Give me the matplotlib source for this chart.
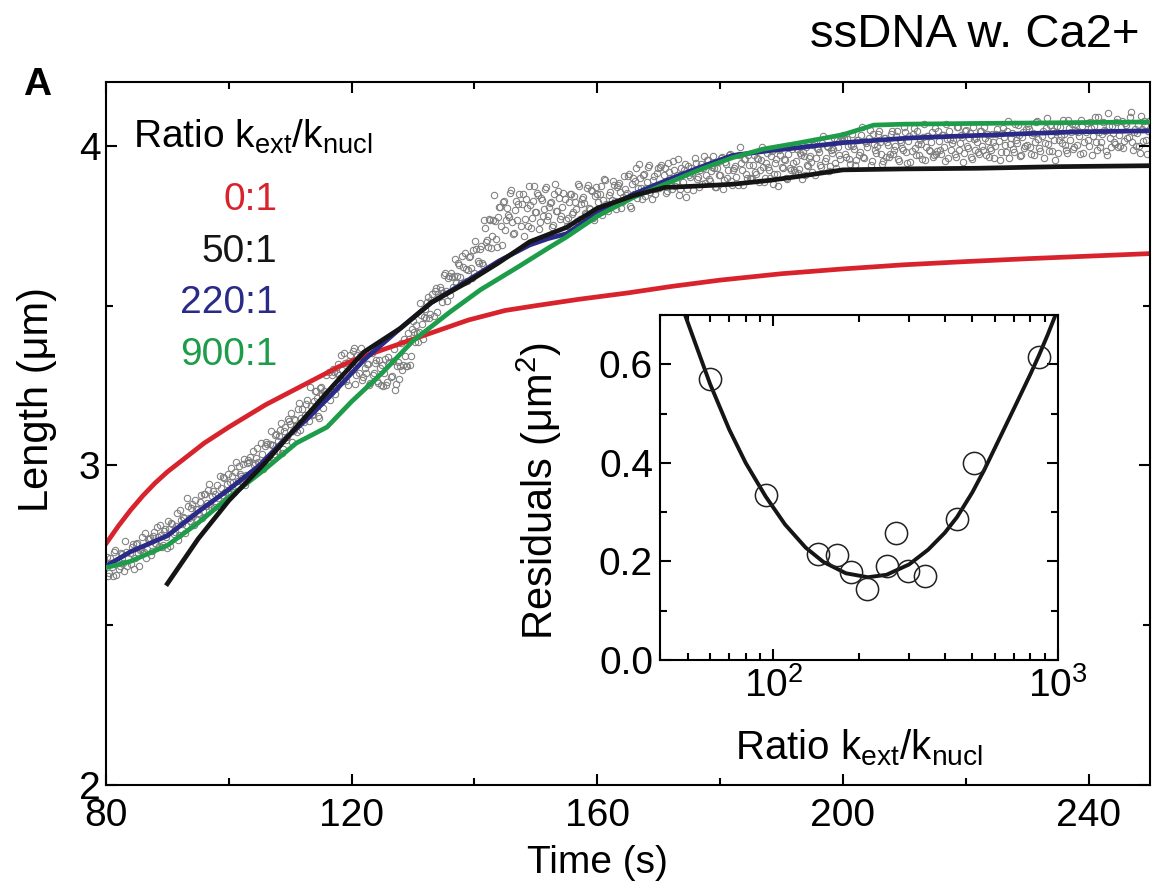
import numpy as np
import matplotlib
matplotlib.use("Agg")
import matplotlib.pyplot as plt
from matplotlib.ticker import MultipleLocator, LogLocator, NullFormatter

plt.rcParams['font.family'] = ['Liberation Sans', 'DejaVu Sans']
plt.rcParams['mathtext.fontset'] = 'custom'
plt.rcParams['mathtext.rm'] = 'Liberation Sans'
plt.rcParams['mathtext.it'] = 'Liberation Sans:italic'

# measured length, 3 samples per second from 80 s on (one row = 5 s)
length_rows = [
    [2.692, 2.655, 2.711, 2.682, 2.730, 2.657, 2.705, 2.685, 2.722, 2.670, 2.728, 2.710, 2.692, 2.755, 2.710],
    [2.757, 2.685, 2.738, 2.725, 2.789, 2.740, 2.770, 2.720, 2.780, 2.758, 2.808, 2.748, 2.783, 2.750, 2.800],
    [2.742, 2.800, 2.820, 2.787, 2.811, 2.767, 2.862, 2.818, 2.836, 2.814, 2.873, 2.826, 2.879, 2.813, 2.864],
    [2.865, 2.885, 2.835, 2.910, 2.873, 2.923, 2.878, 2.903, 2.870, 2.940, 2.872, 2.930, 2.965, 2.917, 2.941],
    [2.912, 2.992, 2.948, 2.981, 2.939, 2.998, 2.966, 3.004, 2.938, 3.009, 3.012, 2.975, 3.046, 3.007, 3.055],
    [2.997, 3.035, 3.015, 3.072, 3.010, 3.068, 3.065, 3.037, 3.100, 3.075, 3.112, 3.040, 3.108, 3.080, 3.144],
    [3.130, 3.074, 3.146, 3.125, 3.176, 3.111, 3.178, 3.158, 3.206, 3.138, 3.187, 3.160, 3.233, 3.211, 3.147],
    [3.246, 3.181, 3.224, 3.216, 3.294, 3.229, 3.303, 3.224, 3.290, 3.283, 3.347, 3.264, 3.320, 3.251, 3.345],
    [3.307, 3.366, 3.284, 3.320, 3.343, 3.268, 3.339, 3.290, 3.317, 3.257, 3.352, 3.290, 3.330, 3.257, 3.306],
    [3.315, 3.290, 3.251, 3.339, 3.276, 3.328, 3.237, 3.311, 3.272, 3.382, 3.313, 3.341, 3.311, 3.395, 3.343],
    [3.452, 3.386, 3.413, 3.417, 3.472, 3.397, 3.491, 3.513, 3.460, 3.517, 3.468, 3.556, 3.538, 3.558, 3.511],
    [3.596, 3.545, 3.586, 3.534, 3.590, 3.593, 3.572, 3.634, 3.591, 3.654, 3.574, 3.616, 3.613, 3.654, 3.586],
    [3.602, 3.676, 3.632, 3.688, 3.627, 3.744, 3.707, 3.770, 3.680, 3.769, 3.764, 3.683, 3.808, 3.748, 3.823],
    [3.736, 3.807, 3.777, 3.861, 3.725, 3.800, 3.769, 3.851, 3.817, 3.718, 3.834, 3.749, 3.815, 3.773, 3.875],
    [3.793, 3.845, 3.761, 3.831, 3.803, 3.872, 3.782, 3.821, 3.747, 3.848, 3.796, 3.859, 3.771, 3.810, 3.835],
    [3.748, 3.823, 3.849, 3.792, 3.823, 3.766, 3.875, 3.817, 3.841, 3.791, 3.868, 3.807, 3.861, 3.775, 3.842],
    [3.851, 3.802, 3.875, 3.830, 3.892, 3.797, 3.857, 3.830, 3.879, 3.803, 3.878, 3.855, 3.824, 3.906, 3.847],
    [3.905, 3.811, 3.880, 3.849, 3.932, 3.868, 3.900, 3.834, 3.913, 3.869, 3.934, 3.856, 3.894, 3.851, 3.916],
    [3.869, 3.941, 3.881, 3.930, 3.858, 3.918, 3.894, 3.953, 3.876, 3.910, 3.846, 3.932, 3.888, 3.942, 3.866],
    [3.910, 3.932, 3.862, 3.946, 3.902, 3.926, 3.880, 3.968, 3.910, 3.957, 3.890, 3.934, 3.931, 3.870, 3.949],
    [3.908, 3.965, 3.894, 3.944, 3.923, 3.975, 3.879, 3.932, 3.903, 3.971, 3.947, 3.877, 3.959, 3.899, 3.939],
    [3.895, 3.941, 3.917, 3.961, 3.887, 3.957, 3.935, 3.901, 3.977, 3.923, 3.967, 3.881, 3.945, 3.911, 3.988],
    [3.934, 3.958, 3.898, 3.975, 3.931, 3.991, 3.924, 3.954, 3.914, 3.979, 3.897, 3.967, 3.996, 3.938, 3.967],
    [3.919, 4.015, 3.963, 3.989, 3.939, 4.010, 3.953, 3.999, 3.920, 3.986, 3.989, 3.945, 4.017, 3.970, 4.028],
    [4.033, 3.975, 4.022, 3.960, 4.004, 4.001, 3.940, 4.019, 3.973, 4.035, 3.964, 4.014, 3.998, 4.050, 3.954],
    [4.007, 3.978, 4.036, 4.012, 3.942, 4.024, 3.964, 4.004, 3.974, 4.046, 3.986, 4.030, 3.958, 4.018, 3.994],
    [4.058, 3.981, 4.015, 3.951, 4.037, 3.993, 4.047, 3.971, 4.005, 4.027, 3.957, 4.031, 3.987, 4.011, 3.965],
    [4.056, 3.984, 4.014, 3.974, 4.034, 3.952, 4.022, 4.046, 3.988, 4.017, 3.964, 4.060, 4.008, 4.029, 3.979],
    [4.050, 3.993, 4.039, 3.960, 4.021, 4.024, 3.980, 4.047, 4.000, 4.058, 3.970, 4.016, 3.992, 4.036, 3.962],
    [4.037, 4.015, 3.981, 4.057, 4.003, 4.047, 3.961, 4.025, 3.991, 4.068, 4.009, 4.033, 3.973, 4.045, 4.001],
    [4.004, 4.053, 3.974, 4.040, 4.013, 4.077, 3.994, 4.030, 3.961, 4.055, 4.007, 4.066, 3.984, 4.020, 4.043],
    [3.978, 4.059, 4.010, 4.037, 3.987, 4.082, 4.020, 4.070, 3.997, 4.046, 4.042, 3.975, 4.061, 4.012, 4.073],
    [4.001, 4.056, 4.032, 4.090, 3.986, 4.043, 4.012, 4.074, 4.048, 3.973, 4.061, 3.996, 4.039, 4.006, 4.084],
    [4.033, 4.060, 3.994, 4.073, 4.024, 4.089, 4.011, 4.044, 4.001, 4.066, 3.978, 4.053, 4.079, 4.017, 4.048],
]
# second trace of the same run, sampled half a step later
length_rows_b = [
    [2.715, 2.665, 2.695, 2.655, 2.735, 2.695, 2.675, 2.725, 2.695, 2.765, 2.685, 2.725, 2.745, 2.675, 2.755],
    [2.727, 2.737, 2.777, 2.730, 2.710, 2.770, 2.772, 2.732, 2.792, 2.755, 2.775, 2.815, 2.745, 2.795, 2.775],
    [2.827, 2.747, 2.817, 2.792, 2.852, 2.782, 2.830, 2.840, 2.790, 2.897, 2.837, 2.867, 2.842, 2.892, 2.832],
    [2.847, 2.907, 2.857, 2.912, 2.882, 2.942, 2.870, 2.920, 2.910, 2.897, 2.967, 2.907, 2.962, 2.892, 2.972],
    [2.947, 2.967, 2.917, 3.012, 2.952, 2.972, 2.960, 3.020, 2.970, 3.017, 3.027, 2.967, 3.002, 3.022, 3.012],
    [3.070, 2.990, 3.060, 3.067, 3.027, 3.107, 3.065, 3.095, 3.045, 3.092, 3.132, 3.052, 3.120, 3.090, 3.140],
    [3.163, 3.108, 3.141, 3.106, 3.194, 3.150, 3.137, 3.192, 3.159, 3.245, 3.157, 3.201, 3.232, 3.155, 3.243],
    [3.219, 3.232, 3.284, 3.231, 3.205, 3.283, 3.293, 3.241, 3.319, 3.274, 3.300, 3.352, 3.263, 3.328, 3.302],
    [3.359, 3.255, 3.346, 3.289, 3.367, 3.276, 3.305, 3.318, 3.253, 3.360, 3.282, 3.321, 3.264, 3.329, 3.251],
    [3.248, 3.332, 3.262, 3.323, 3.281, 3.365, 3.254, 3.324, 3.310, 3.298, 3.396, 3.312, 3.413, 3.315, 3.427],
    [3.419, 3.441, 3.386, 3.509, 3.443, 3.465, 3.462, 3.528, 3.473, 3.536, 3.547, 3.481, 3.528, 3.550, 3.539],
    [3.603, 3.515, 3.592, 3.601, 3.557, 3.645, 3.594, 3.627, 3.572, 3.620, 3.664, 3.576, 3.651, 3.618, 3.673],
    [3.701, 3.641, 3.677, 3.632, 3.768, 3.700, 3.684, 3.769, 3.718, 3.845, 3.709, 3.777, 3.809, 3.690, 3.826],
    [3.768, 3.785, 3.853, 3.761, 3.727, 3.829, 3.817, 3.749, 3.851, 3.771, 3.805, 3.873, 3.742, 3.827, 3.793],
    [3.852, 3.740, 3.838, 3.782, 3.866, 3.768, 3.810, 3.824, 3.754, 3.880, 3.796, 3.838, 3.782, 3.852, 3.768],
    [3.773, 3.851, 3.786, 3.843, 3.804, 3.882, 3.770, 3.835, 3.822, 3.788, 3.879, 3.801, 3.858, 3.767, 3.871],
    [3.824, 3.850, 3.785, 3.897, 3.819, 3.845, 3.813, 3.891, 3.826, 3.870, 3.883, 3.805, 3.839, 3.865, 3.852],
    [3.911, 3.807, 3.898, 3.890, 3.838, 3.942, 3.869, 3.908, 3.843, 3.887, 3.939, 3.835, 3.905, 3.866, 3.931],
    [3.933, 3.873, 3.909, 3.852, 3.948, 3.900, 3.864, 3.924, 3.888, 3.960, 3.864, 3.912, 3.924, 3.840, 3.936],
    [3.903, 3.915, 3.963, 3.896, 3.872, 3.944, 3.932, 3.884, 3.956, 3.896, 3.920, 3.968, 3.872, 3.932, 3.908],
    [3.961, 3.865, 3.949, 3.901, 3.973, 3.889, 3.925, 3.937, 3.877, 3.995, 3.923, 3.959, 3.911, 3.971, 3.899],
    [3.899, 3.971, 3.911, 3.959, 3.923, 3.995, 3.887, 3.947, 3.935, 3.899, 3.983, 3.911, 3.959, 3.875, 3.971],
    [3.931, 3.955, 3.895, 3.996, 3.924, 3.948, 3.917, 3.989, 3.929, 3.970, 3.982, 3.910, 3.939, 3.963, 3.951],
    [4.004, 3.908, 3.992, 3.982, 3.934, 4.030, 3.961, 3.997, 3.937, 3.978, 4.026, 3.930, 3.995, 3.959, 4.019],
    [4.024, 3.964, 4.000, 3.942, 4.038, 3.990, 3.957, 4.017, 3.981, 4.058, 3.962, 4.010, 4.024, 3.940, 4.036],
    [3.988, 4.000, 4.048, 3.976, 3.952, 4.024, 4.012, 3.964, 4.036, 3.976, 4.000, 4.048, 3.952, 4.012, 3.988],
    [4.043, 3.947, 4.031, 3.983, 4.055, 3.971, 4.007, 4.019, 3.959, 4.067, 3.995, 4.031, 3.983, 4.043, 3.971],
    [3.974, 4.046, 3.986, 4.034, 3.998, 4.070, 3.962, 4.022, 4.010, 3.974, 4.058, 3.986, 4.034, 3.950, 4.046],
    [4.000, 4.024, 3.964, 4.060, 3.988, 4.012, 3.976, 4.048, 3.988, 4.024, 4.036, 3.964, 3.988, 4.012, 4.000],
    [4.053, 3.957, 4.041, 4.029, 3.981, 4.077, 4.005, 4.041, 3.981, 4.017, 4.065, 3.969, 4.029, 3.993, 4.053],
    [4.061, 3.996, 4.035, 3.970, 4.074, 4.022, 3.983, 4.048, 4.009, 4.087, 3.983, 4.035, 4.048, 3.957, 4.061],
    [4.017, 4.030, 4.082, 4.004, 3.978, 4.056, 4.043, 3.991, 4.069, 4.004, 4.030, 4.082, 3.978, 4.043, 4.017],
    [4.076, 3.972, 4.063, 4.011, 4.089, 3.998, 4.037, 4.050, 3.985, 4.102, 4.024, 4.063, 4.011, 4.076, 3.998],
    [4.001, 4.079, 4.014, 4.066, 4.027, 4.105, 3.988, 4.053, 4.040, 4.001, 4.092, 4.014, 4.066, 3.975, 4.079],
]
meas_len = np.array(length_rows).ravel()
meas_t = 80 + np.arange(len(meas_len)) / 3.0
meas_len_b = np.array(length_rows_b).ravel()
meas_t_b = 80 + 1 / 6.0 + np.arange(len(meas_len_b)) / 3.0

# simulated curves
t_red = [80, 82, 84, 86, 88, 90, 92, 94, 96, 98, 100, 103, 106, 109, 112, 115, 118, 121, 124, 127, 130, 133, 136, 139, 142, 145, 150, 157, 165, 172, 180, 190, 200, 210, 220, 230, 240, 250]
y_red = [2.755, 2.81, 2.86, 2.905, 2.945, 2.98, 3.01, 3.04, 3.07, 3.095, 3.12, 3.155, 3.19, 3.22, 3.25, 3.28, 3.31, 3.335, 3.355, 3.375, 3.395, 3.415, 3.435, 3.455, 3.47, 3.485, 3.50, 3.52, 3.54, 3.56, 3.58, 3.60, 3.615, 3.628, 3.638, 3.647, 3.655, 3.663]

t_black = [90, 95, 100, 106, 111, 117, 122, 128, 133, 139, 144, 149, 155, 160, 166, 171, 177, 182, 188, 193, 200, 210, 222, 235, 250]
y_black = [2.63, 2.77, 2.89, 3.01, 3.12, 3.25, 3.355, 3.43, 3.51, 3.575, 3.635, 3.70, 3.745, 3.805, 3.845, 3.87, 3.875, 3.88, 3.892, 3.905, 3.925, 3.928, 3.93, 3.935, 3.938]

t_blue = [80, 84, 90, 95, 100, 105, 109, 113, 117, 122, 128, 133, 139, 144, 149, 152, 155, 160, 166, 171, 177, 182, 188, 193, 200, 211, 228, 238, 250]
y_blue = [2.685, 2.73, 2.78, 2.855, 2.925, 3.00, 3.08, 3.15, 3.227, 3.33, 3.43, 3.51, 3.58, 3.64, 3.69, 3.71, 3.725, 3.79, 3.85, 3.89, 3.935, 3.97, 3.985, 3.995, 4.01, 4.025, 4.037, 4.044, 4.047]

t_green = [80, 84, 90, 95, 100, 106, 111, 116, 120, 125, 130, 136, 141, 147, 152, 155, 160, 166, 171, 177, 182, 187, 193, 200, 205, 210, 220, 233, 250]
y_green = [2.68, 2.70, 2.75, 2.82, 2.90, 2.99, 3.07, 3.12, 3.20, 3.29, 3.39, 3.48, 3.55, 3.62, 3.68, 3.715, 3.78, 3.84, 3.88, 3.928, 3.963, 3.99, 4.01, 4.035, 4.065, 4.068, 4.07, 4.072, 4.075]

ratio_labels = ['0:1', '50:1', '220:1', '900:1']
ratio_colors = ['#d8232d', '#151515', '#2a2a88', '#1d9c49']

# inset: residuals vs ratio
ratio_pts = [60, 94, 144, 168, 188, 214, 251, 270, 298, 341, 442, 507, 857]
resid_pts = [0.57, 0.335, 0.215, 0.213, 0.178, 0.145, 0.19, 0.258, 0.18, 0.17, 0.287, 0.40, 0.615]
ratio_fit = [49, 55, 60, 70, 80, 94, 110, 130, 150, 180, 215, 250, 300, 350, 400, 442, 500, 550, 600, 700, 800, 857, 920, 980]
resid_fit = [0.70, 0.62, 0.56, 0.468, 0.40, 0.332, 0.275, 0.228, 0.199, 0.176, 0.168, 0.173, 0.194, 0.224, 0.258, 0.29, 0.34, 0.385, 0.43, 0.51, 0.58, 0.618, 0.66, 0.70]

fig = plt.figure(figsize=(11.53, 8.94), dpi=100)
ax = fig.add_axes([0.0919, 0.1219, 0.9055, 0.7864])

for tt, yy in [(meas_t, meas_len), (meas_t_b, meas_len_b)]:
    ax.plot(tt, yy, 'o', ms=4.6, mfc='none', mec='#7e7e7e', mew=0.75, zorder=1)
ax.plot(t_red, y_red, c=ratio_colors[0], lw=3.4, zorder=2)
ax.plot(t_blue, y_blue, c=ratio_colors[2], lw=3.4, zorder=3)
ax.plot(t_green, y_green, c=ratio_colors[3], lw=3.4, zorder=4)
ax.plot(t_black, y_black, c=ratio_colors[1], lw=3.4, zorder=5)

ax.set_xlim(80, 250)
ax.set_ylim(2, 4.2)
ax.xaxis.set_major_locator(MultipleLocator(40))
ax.xaxis.set_minor_locator(MultipleLocator(20))
ax.yaxis.set_major_locator(MultipleLocator(1))
ax.yaxis.set_minor_locator(MultipleLocator(0.5))
ax.tick_params(which='both', direction='in', top=True, right=True, width=1.5, labelsize=28, pad=4)
ax.tick_params(axis='x', which='both', pad=9)
ax.tick_params(which='major', length=8)
ax.tick_params(which='minor', length=5)
for s in ax.spines.values():
    s.set_linewidth(1.5)
ax.set_xlabel('Time (s)', fontsize=28)
ax.xaxis.set_label_coords(0.471, -0.085)
ax.set_ylabel('Length (μm)', fontsize=30)
ax.yaxis.set_label_coords(-0.047, 0.548)

ax.text(0.026, 0.906, r'Ratio k$_{\rm ext}$/k$_{\rm nucl}$', transform=ax.transAxes,
        fontsize=28, va='baseline', ha='left')
for i, (lab, col) in enumerate(zip(ratio_labels, ratio_colors)):
    ax.text(0.164, 0.832 - i * 0.0735, lab, color=col, transform=ax.transAxes,
            fontsize=28, ha='right', va='center')

# inset
ins = fig.add_axes([0.5724, 0.2617, 0.3452, 0.3859])
ins.set_facecolor('white')
ins.plot(ratio_fit, resid_fit, c='#151515', lw=2.8, zorder=2)
ins.plot(ratio_pts, resid_pts, 'o', ms=16, mfc='none', mec='#222222', mew=1.1, zorder=3)
ins.set_xscale('log')
ins.set_xlim(40, 1000)
ins.set_ylim(0, 0.7)
ins.xaxis.set_major_locator(LogLocator(base=10))
ins.xaxis.set_minor_locator(LogLocator(base=10, subs=np.arange(2, 10)))
ins.xaxis.set_minor_formatter(NullFormatter())
ins.yaxis.set_major_locator(MultipleLocator(0.2))
ins.yaxis.set_minor_locator(MultipleLocator(0.1))
ins.tick_params(which='both', direction='in', top=True, right=True, width=1.5, labelsize=28, pad=5)
ins.tick_params(which='major', length=8)
ins.tick_params(which='minor', length=5)
for s in ins.spines.values():
    s.set_linewidth(1.5)
ins.set_xlabel(r'Ratio k$_{\rm ext}$/k$_{\rm nucl}$', fontsize=29)
ins.xaxis.set_label_coords(0.50, -0.194)
ins.set_ylabel(r'Residuals (μm$^2$)', fontsize=30)
ins.yaxis.set_label_coords(-0.24, 0.49)

fig.text(0.9887, 0.947, 'ssDNA w. Ca2+', ha='right', va='baseline', fontsize=34)
fig.text(0.02, 0.894, 'A', ha='left', va='baseline', fontsize=28, fontweight='bold')

fig.savefig('out.png', dpi=100)
